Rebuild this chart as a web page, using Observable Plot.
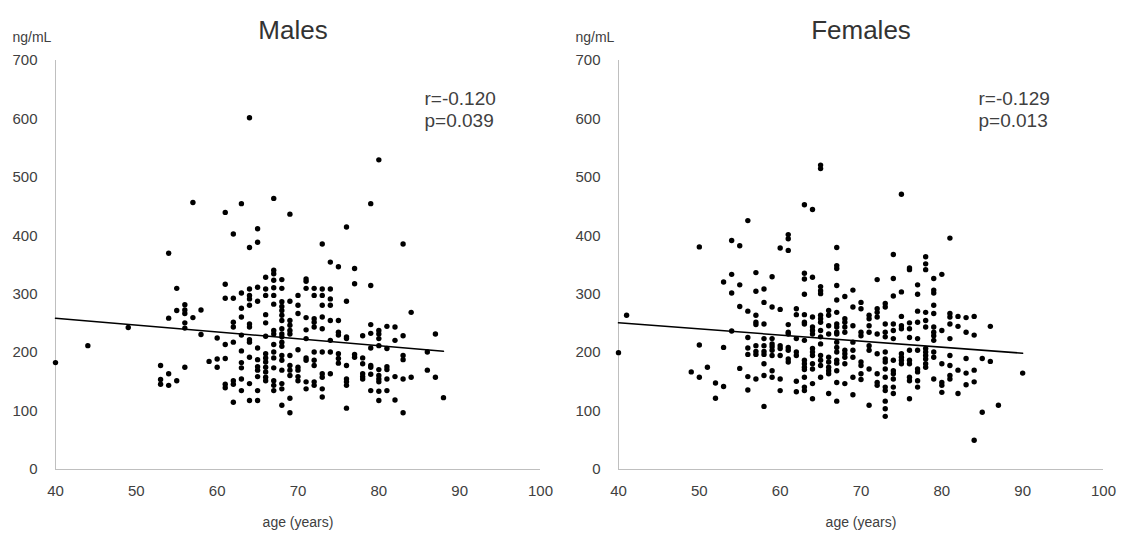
<!DOCTYPE html>
<html><head><meta charset="utf-8">
<script src="https://cdn.jsdelivr.net/npm/d3@7"></script>
<script src="https://cdn.jsdelivr.net/npm/@observablehq/plot@0.6"></script>
<style>
body{margin:0;background:#fff;}
#wrap{display:flex;width:1121px;height:537px;overflow:hidden;}
#wrap svg{display:block;}
</style>
</head><body><div id="wrap"></div>
<script>
const xTicks = [40, 50, 60, 70, 80, 90, 100];
const yTicks = [0, 100, 200, 300, 400, 500, 600, 700];

const maleAges = [40,44,49,53,54,55,56,57,58,59,60,61,62,63,64,65,66,67,68,69,70,71,72,73,74,75,76,77,78,79,80,81,82,83,84,86,87,88];
const maleValues = [
  [183],[212],[243],[178,154,146],[259,164,144,370],[272,152,310],[273,267,251,242,175,282],[260,457],[273,231],[185],
  [225,189,175],
  [440,317,293,214,190,146,140],
  [403,293,252,244,218,152,146,115],
  [455,302,276,261,230,203,183,174,155,135],
  [602,380,309,298,292,281,249,244,222,218,192,147,118],
  [412,389,312,288,208,188,176,170,159,135,118],
  [329,309,298,265,251,228,198,191,184,175,167,158,152],
  [464,341,335,324,311,298,283,238,232,214,201,191,174,152,144,135],
  [325,310,287,279,272,264,255,241,232,227,218,211,195,187,170,147,138,110],
  [437,288,255,247,238,232,195,178,170,161,122,97],
  [298,281,267,205,175,170,159,152],
  [326,322,310,260,239,224,191,187,150,138],
  [310,298,258,252,244,201,187,178,150,144],
  [386,309,298,281,261,241,201,164,158,138,124],
  [355,309,292,281,255,221,201,164],
  [347,255,235,230,198,190,182],
  [415,288,227,224,178,155,150,144,105],
  [344,318,197,192],
  [229,191,181,164,159,155],
  [455,315,248,233,208,178,175,163,135],
  [530,238,232,224,212,171,161,155,150,134,118],
  [245,207,176,171,155,135],
  [244,221,159,119],
  [386,229,195,188,155,97],
  [269,158],[201,170],[232,158],[123]
];
const maleFitX = [40, 88];
const maleFitY = [259, 202.5];

const femaleAges = [40,41,49,50,51,52,53,54,55,56,57,58,59,60,61,62,63,64,65,66,67,68,69,70,71,72,73,74,75,76,77,78,79,80,81,82,83,84,85,86,87,90];
const femaleValues = [
  [200],[264],[167],[381,213,158],[175],[148,122],[321,209,142],[392,334,302,237],[383,316,279,173],
  [426,271,226,208,197,159,136],
  [337,305,264,252,248,212,202,197,155],
  [309,286,249,224,212,202,197,181,161,108],
  [330,278,224,215,210,204,195,169,158],
  [379,274,212,207,195,155,135],
  [402,395,375,248,235,232,209,204,189,184],
  [275,265,224,201,195,151,133],
  [453,336,326,300,265,252,249,221,187,181,175,171,158,141,135],
  [445,329,261,244,238,232,207,201,195,181,172,147,121],
  [521,515,313,306,301,264,258,252,238,227,215,195,187,178,158],
  [272,264,246,232,192,184,175,169,164,130],
  [380,349,344,315,290,269,249,244,235,232,218,209,201,187,182,169,149,117],
  [296,258,252,244,235,204,198,192,181,147],
  [307,278,246,218,204,192,158,128],
  [286,275,235,229,184,178,164,154],
  [264,258,246,235,212,204,172,110],
  [325,275,269,261,232,198,164,149,144],
  [284,278,249,235,227,201,189,184,172,158,141,135,117,104,91],
  [368,327,297,249,238,224,187,169,164,155,141,130],
  [471,304,262,246,241,198,192,187,181],
  [345,342,251,241,226,204,187,181,158,152,121],
  [316,300,271,252,224,204,172,167,152,141],
  [364,352,342,269,255,244,207,201,195,189,181,175],
  [327,307,302,281,267,244,235,229,221,201,192,155],
  [334,238,181,149,144,132],
  [396,267,261,249,224,195,178,161,155],
  [262,245,170,130],[260,235,190,165,145],[262,230,170,150,50],[190,98],[245,185],[110],[165]
];
const femaleFitX = [40, 90];
const femaleFitY = [251, 199];

const panels = [
  {title: "Males", ages: maleAges, values: maleValues, fitX: maleFitX, fitY: maleFitY, r: "r=-0.120", p: "p=0.039", width: 563, marginRight: 23, statDx: 369, titleDx: -5},
  {title: "Females", ages: femaleAges, values: femaleValues, fitX: femaleFitX, fitY: femaleFitY, r: "r=-0.129", p: "p=0.013", width: 558, marginRight: 18, statDx: 360, titleDx: 0}
];

const font = "'Liberation Sans', Arial, sans-serif";
const textColor = "#404040";

function panel(cfg) {
  const pts = cfg.ages.flatMap((a, i) => cfg.values[i].map(v => ({age: a, value: v})));
  const fit = cfg.fitX.map((x, i) => ({age: x, value: cfg.fitY[i]}));
  return Plot.plot({
    width: cfg.width,
    height: 537,
    marginTop: 60,
    marginBottom: 68,
    marginLeft: 55,
    marginRight: cfg.marginRight,
    style: {fontFamily: font, fontSize: "15px", color: textColor, background: "#fff", overflow: "visible"},
    x: {domain: [40, 100]},
    y: {domain: [0, 700]},
    marks: [
      Plot.ruleX([40], {stroke: "#bfbfbf", strokeWidth: 1}),
      Plot.ruleY([0], {stroke: "#bfbfbf", strokeWidth: 1}),
      Plot.axisX(xTicks, {tickSize: 0, tickPadding: 16, label: null, fill: textColor, fontSize: 15}),
      Plot.axisY(yTicks, {tickSize: 0, tickPadding: 18, label: null, fill: textColor, fontSize: 15}),
      Plot.line(fit, {x: "age", y: "value", stroke: "#000", strokeWidth: 1.5}),
      Plot.dot(pts, {x: "age", y: "value", r: 2.7, fill: "#000"}),
      Plot.text([cfg.title], {frameAnchor: "top", dx: cfg.titleDx, dy: -40, fontSize: 26, fill: "#333"}),
      Plot.text(["ng/mL"], {frameAnchor: "top-left", textAnchor: "start", dx: -43, dy: -28, fontSize: 14, fill: textColor}),
      Plot.text([cfg.r], {frameAnchor: "top-left", textAnchor: "start", dx: cfg.statDx, dy: 31, fontSize: 19, fill: textColor}),
      Plot.text([cfg.p], {frameAnchor: "top-left", textAnchor: "start", dx: cfg.statDx, dy: 53, fontSize: 19, fill: textColor}),
      Plot.text(["age (years)"], {frameAnchor: "bottom", dy: 57, fontSize: 14, fill: textColor})
    ]
  });
}

const wrap = document.getElementById("wrap");
panels.forEach(cfg => wrap.appendChild(panel(cfg)));
</script>
</body></html>
